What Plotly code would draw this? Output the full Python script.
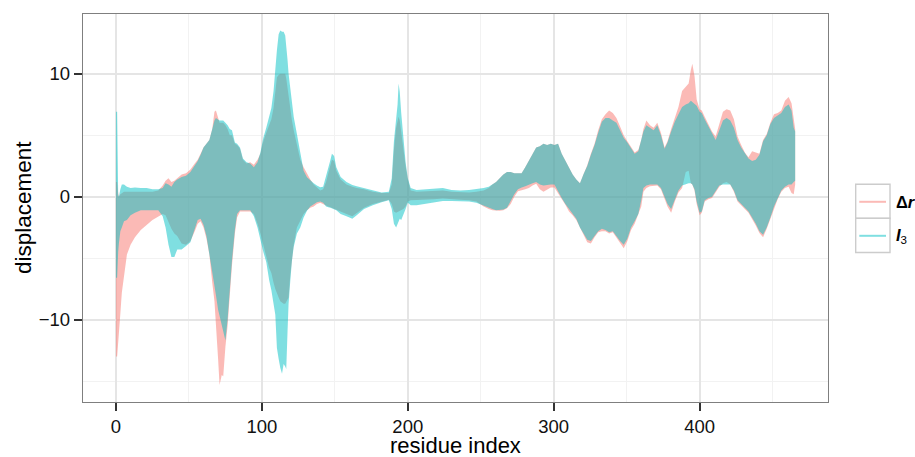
import plotly.graph_objects as go

# Envelope of the dense oscillating displacement traces
residue = [0.0, 0.8, 1.5, 2.0, 3.0, 4.0, 5.5, 7.5, 10, 13, 17, 21, 25, 29, 32, 34, 36, 38, 40, 42,
           45, 48, 51, 54, 56, 58, 60, 62, 64, 66, 67.5, 68.5, 70, 71, 72.5, 73.5, 75, 76.5, 78, 79.5,
           81.5, 83, 85, 87, 89.5, 92, 94.5, 97, 99, 101, 103, 105, 106.5, 108, 109.2, 110.3, 111.5,
           112.6, 113.8, 114.9, 116.0, 116.7, 117.6, 118.3, 119.5, 120.6, 121.8, 124.0, 126.3, 128.6,
           130.9, 133.2, 135.5, 137.7, 140, 142, 144, 145.5, 147, 148, 149.5, 151, 154, 158, 162, 165,
           170, 176, 182, 187, 189, 190.5, 192, 193, 193.7, 194.5, 195.5, 197, 198.5, 200, 202, 206,
           212, 218, 224, 230, 236, 242, 247, 252, 255.5, 258, 260.5, 263, 265.5, 268, 270.5, 273,
           275.5, 278, 280.5, 283, 285.5, 288, 290.5, 293, 295.5, 298, 300.5, 303, 305.5, 308, 310.5,
           313, 315.5, 318, 320.5, 323, 325.5, 328, 330.5, 333, 335.5, 338, 340.5, 343, 345.5, 348,
           350.5, 353, 355.5, 358, 360, 361.5, 363.5, 366, 368.5, 371, 373.5, 376, 378, 380.5, 383,
           385.5, 388, 390.5, 392.5, 394, 395, 396.5, 398, 400, 401.5, 403.5, 406, 408.5, 411, 413.5,
           416, 418.5, 421, 423.5, 426, 428.5, 431, 433.5, 436, 438.5, 441, 443.5, 446, 448.5, 451,
           453.5, 456, 458.5, 461, 463, 464.5, 465.5]

i3_upper = [6.9, 6.9, 0.2, 0.0, 0.6, 1.0, 1.0, 0.8, 0.7, 0.75, 0.7, 0.7, 0.6, 0.6, 0.7, 1.1, 1.0, 0.8, 1.2, 1.4,
            1.6, 1.7, 2.0, 2.5, 2.9, 3.4, 4.0, 4.3, 4.6, 5.5, 6.2, 6.4, 6.3, 6.2, 6.2, 6.2, 6.0, 5.8, 5.5, 5.4,
            4.4, 4.3, 4.0, 3.1, 2.8, 2.7, 2.4, 2.8, 3.6, 4.8, 5.6, 6.5, 7.2, 8.6, 10.8, 11.9, 13.2,
            13.5, 13.4, 13.4, 13.1, 12.4, 11.1, 10.0, 8.6, 7.5, 6.5, 5.1, 3.75, 2.1,
            1.57, 1.3, 1.1, 0.9, 0.76, 0.8, 1.6, 2.3, 3.0, 3.5, 3.3, 2.4, 1.6, 1.2, 0.95, 0.85,
            0.7, 0.5, 0.35, 0.4, 1.5, 4.5, 6.0, 7.5, 9.2, 8.5, 6.8, 4.5, 2.8, 1.5, 0.7, 0.55,
            0.6, 0.7, 0.7, 0.55, 0.5, 0.55, 0.6, 0.7, 0.8, 1.0, 1.2, 1.5, 1.8, 2.0, 2.0, 1.9,
            1.9, 1.9, 2.4, 2.9, 3.5, 4.0, 4.1, 4.3, 4.2, 4.3, 4.2, 4.3, 3.5, 2.9, 2.4,
            1.8, 1.4, 1.1, 1.85, 2.5, 3.4, 4.2, 5.2, 6.1, 6.4, 6.4, 6.2, 6.0, 5.4, 4.8,
            4.4, 3.9, 3.5, 3.7, 4.5, 5.3, 5.8, 5.6, 5.4, 5.8, 5.0, 3.9, 4.4, 5.3, 6.1,
            6.7, 7.3, 7.5, 7.6, 7.8, 7.7, 7.5, 7.4, 6.9, 6.8, 6.3, 5.7, 5.1, 4.6, 5.4,
            6.2, 6.4, 6.2, 5.6, 4.6, 4.0, 3.5, 3.1, 2.9, 3.0, 3.4, 4.5, 5.0, 5.9, 6.4,
            6.6, 6.8, 7.3, 7.5, 7.0, 5.6, 5.3]

i3_lower = [-6.6, -6.6, -4.5, -3.8, -2.8, -2.5, -2.0, -1.9, -1.5, -1.3, -1.1, -1.1, -1.1, -1.1, -1.6, -2.5, -3.9, -4.9, -4.9, -4.3,
            -4.3, -4.0, -3.7, -2.6, -1.9, -1.8, -2.3, -3.2, -4.5, -6.0, -7.2, -8.0, -9.2, -9.8, -10.3, -11.0, -11.7, -10.0, -7.8, -5.2,
            -2.7, -1.4, -1.1, -1.1, -1.1, -1.1, -1.6, -2.5, -3.4, -4.5, -5.3, -6.8, -7.6, -8.6, -9.6, -12.3, -13.2,
            -13.9, -14.4, -13.6, -13.8, -14.0, -10.9, -8.7, -6.8, -5.2, -4.1, -3.0, -2.5, -1.7,
            -1.14, -0.8, -0.6, -0.45, -0.4, -0.5, -0.8, -0.85, -0.9, -0.95, -1.0, -1.1, -1.4, -1.6, -1.8, -1.5,
            -1.0, -0.7, -0.45, -0.3, -1.0, -2.2, -2.5, -2.3, -2.0, -1.8, -1.9, -1.5, -1.0, -0.5, -0.7, -0.7,
            -0.6, -0.45, -0.35, -0.35, -0.35, -0.4, -0.5, -0.7, -0.9, -1.0, -1.1, -1.1, -1.05, -0.9, -0.4, 0.2,
            0.6, 0.75, 0.85, 0.95, 1.1, 1.2, 1.0, 0.9, 0.95, 1.0, 1.0, 0.5, -0.1, -0.6, -1.1,
            -1.4, -1.8, -2.5, -3.0, -3.5, -3.6, -3.2, -2.8, -2.6, -2.7, -2.9, -2.8, -3.2, -3.6, -3.9,
            -3.4, -2.5, -2.0, -1.4, -0.3, 0.7, 0.9, 1.0, 1.0, 1.0, 0.7, 0.0, -0.6, -1.0, -0.2,
            0.5, 0.9, 1.0, 1.1, 1.1, 1.0, 0.6, -0.4, -1.3, -1.2, -0.3, -0.1, 0.0, 0.4, 0.9,
            1.0, 1.0, 1.0, 0.5, -0.3, -0.6, -0.9, -1.2, -1.7, -2.2, -2.8, -3.1, -2.5, -1.7, -0.8,
            -0.1, 0.5, 0.8, 1.0, 1.0, 1.2, 1.3]

dr_upper = [1.2, 1.2, 0.3, 0.0, 0.2, 0.3, 0.4, 0.4, 0.4, 0.4, 0.4, 0.4, 0.4, 0.5, 0.9, 1.3, 1.5, 1.2, 1.3, 1.5,
            1.8, 1.9, 2.2, 2.7, 3.0, 3.5, 4.0, 4.3, 4.6, 5.5, 6.9, 7.0, 6.5, 6.0, 6.0, 6.0, 5.8, 5.5, 5.0, 5.0,
            4.3, 4.2, 3.9, 3.0, 2.7, 2.8, 2.6, 3.0, 3.5, 4.5, 5.2, 5.8, 6.3, 7.2, 8.5, 9.7, 9.9,
            10.0, 10.0, 10.0, 10.0, 9.6, 8.7, 8.1, 7.3, 6.2, 5.4, 4.3, 3.0, 2.4,
            1.85, 1.4, 1.0, 0.76, 0.5, 0.6, 1.2, 1.9, 2.6, 3.0, 2.9, 2.1, 1.4, 1.0, 0.8, 0.7,
            0.6, 0.4, 0.3, 0.3, 1.0, 3.8, 5.6, 6.3, 6.5, 6.2, 5.2, 4.0, 2.5, 1.4, 0.5, 0.4,
            0.45, 0.5, 0.5, 0.4, 0.35, 0.35, 0.4, 0.5, 0.7, 1.0, 1.2, 1.5, 1.8, 2.0, 2.0, 1.9,
            1.9, 1.9, 2.4, 2.9, 3.5, 4.0, 4.1, 4.3, 4.2, 4.3, 4.2, 4.3, 3.5, 2.9, 2.4,
            1.8, 1.4, 1.1, 1.85, 2.55, 3.5, 4.3, 5.4, 6.3, 6.7, 7.0, 6.8, 6.4, 5.7, 5.0,
            4.5, 4.1, 3.6, 3.8, 4.6, 5.5, 6.2, 5.8, 5.6, 6.0, 5.2, 4.0, 4.5, 5.5, 6.4,
            7.3, 8.6, 8.9, 9.2, 10.3, 10.8, 9.8, 7.9, 7.1, 7.0, 6.5, 5.9, 5.3, 4.9, 5.9,
            6.9, 7.1, 7.0, 6.3, 4.9, 4.2, 3.6, 3.2, 3.7, 3.6, 3.5, 4.6, 5.1, 6.0, 6.7,
            6.8, 7.0, 7.8, 8.1, 7.6, 6.4, 5.5]

dr_lower = [-13.0, -13.0, -12.3, -11.5, -9.5, -7.8, -6.3, -4.7, -3.9, -3.3, -2.7, -2.3, -1.9, -1.6, -1.4, -1.5, -2.0, -2.6, -3.0, -3.2,
            -3.8, -3.9, -3.6, -2.8, -2.2, -2.0, -2.5, -3.4, -4.7, -7.0, -8.5, -10.0, -13.2, -15.3, -14.5, -14.6, -12.2, -10.5, -8.5, -5.6,
            -3.0, -1.7, -1.2, -1.2, -1.2, -1.2, -1.4, -2.2, -3.0, -4.0, -4.8, -5.8, -6.2, -7.0, -7.5, -7.9, -8.2,
            -8.5, -8.6, -8.7, -8.7, -8.6, -8.4, -8.2, -6.3, -5.0, -3.9, -2.5, -2.0, -1.4,
            -1.1, -0.9, -0.8, -0.6, -0.5, -0.6, -0.7, -0.8, -0.85, -0.9, -0.95, -1.0, -1.2, -1.4, -1.6, -1.3,
            -0.9, -0.6, -0.4, -0.25, -0.6, -1.2, -1.3, -1.2, -1.2, -1.1, -1.1, -1.0, -0.8, -0.4, -0.3, -0.3,
            -0.25, -0.2, -0.15, -0.2, -0.25, -0.3, -0.4, -0.8, -1.0, -1.1, -1.15, -1.15, -1.1, -0.95, -0.6, 0.0,
            0.45, 0.5, 0.6, 0.7, 0.9, 1.05, 0.6, 0.4, 0.6, 0.75, 0.75, 0.3, -0.2, -0.65, -1.2,
            -1.5, -1.9, -2.6, -3.1, -3.7, -3.8, -3.3, -2.9, -2.8, -2.8, -3.0, -2.9, -3.3, -3.8, -4.2,
            -3.6, -2.7, -2.2, -1.5, -0.8, 0.4, 0.7, 0.85, 0.9, 0.9, 0.6, -0.1, -0.8, -1.3, -0.4,
            0.35, 0.7, 2.0, 2.1, 1.1, 1.0, 0.5, -0.6, -1.5, -1.3, -0.4, -0.2, -0.1, 0.3, 0.8,
            1.1, 1.2, 1.0, 0.4, -0.4, -0.7, -1.0, -1.3, -1.8, -2.35, -2.95, -3.3, -2.6, -1.9, -1.0,
            -0.2, 0.4, 0.7, 0.8, 0.3, 0.2, 1.0]

x_ticks = [0, 100, 200, 300, 400]
x_minor = [50, 150, 250, 350, 450]
y_ticks = [-10, 0, 10]
y_minor = [-15, -5, 5]
series_labels = ["<b>\u0394<i>r</i></b>", "<b><i>I</i></b><sub>3</sub>"]
series_names = ["\u0394r", "I3"]
series_colors = ["rgba(248,118,109,0.5)", "rgba(0,191,196,0.5)"]

FONT = "Liberation Sans, Arial, Helvetica, sans-serif"
FIG_W, FIG_H = 915, 457
L, T, W, H = 83, 14, 745, 388


def px_x(p):
    return (p - L) / W


def px_y(p):
    return (T + H - p) / H


fig = go.Figure()
for name, color, up, lo in [(series_names[0], series_colors[0], dr_upper, dr_lower),
                            (series_names[1], series_colors[1], i3_upper, i3_lower)]:
    fig.add_trace(go.Scatter(
        x=residue + residue[::-1],
        y=up + lo[::-1],
        fill="toself",
        fillcolor=color,
        mode="lines",
        line=dict(width=0, color="rgba(0,0,0,0)"),
        name=name,
        showlegend=False,
        hoverinfo="skip",
    ))

axis_common = dict(
    ticks="outside", ticklen=8, tickwidth=1.5, tickcolor="#333333",
    showline=True, mirror=True, linecolor="#7f7f7f", linewidth=1.3,
    showgrid=True, gridcolor="#E5E5E5", gridwidth=1.5, zeroline=False,
    tickfont=dict(family=FONT, size=18.5, color="#111111"),
)

fig.update_layout(
    width=FIG_W, height=FIG_H,
    margin=dict(l=L, r=FIG_W - L - W, t=T, b=FIG_H - T - H),
    plot_bgcolor="white", paper_bgcolor="white",
    xaxis=dict(range=[-22.6, 488.0], tickvals=x_ticks, ticktext=[str(v) for v in x_ticks],
               minor=dict(tickvals=x_minor, showgrid=True, gridcolor="#F2F2F2", gridwidth=1.2, ticks=""),
               **axis_common),
    yaxis=dict(range=[-16.69, 14.85], tickvals=y_ticks,
               ticktext=["\u221210", "0", "10"],
               minor=dict(tickvals=y_minor, showgrid=True, gridcolor="#F2F2F2", gridwidth=1.2, ticks=""),
               **axis_common),
    showlegend=False,
)

# axis titles
fig.add_annotation(text="residue index", xref="paper", yref="paper", x=px_x(455.2), y=px_y(445),
                   xanchor="center", yanchor="middle", showarrow=False,
                   font=dict(family=FONT, size=22, color="black"))
fig.add_annotation(text="displacement", xref="paper", yref="paper", x=px_x(23), y=px_y(208),
                   xanchor="center", yanchor="middle", showarrow=False, textangle=-90,
                   font=dict(family=FONT, size=22.5, color="black"))

# legend (keys drawn as boxes with short lines)
key_tops = [184.3, 218.3]
for i, (label, color) in enumerate(zip(series_labels, series_colors)):
    top = key_tops[i]
    fig.add_shape(type="rect", xref="paper", yref="paper",
                  x0=px_x(855.7), x1=px_x(890), y0=px_y(top), y1=px_y(top + 34.2),
                  line=dict(color="#CCCCCC", width=1.4), fillcolor="white")
    fig.add_shape(type="line", xref="paper", yref="paper",
                  x0=px_x(859.3), x1=px_x(886), y0=px_y(top + 17.5), y1=px_y(top + 17.5),
                  line=dict(color=color, width=2))
    fig.add_annotation(text=label, xref="paper", yref="paper", x=px_x(893.5), y=px_y(top + 17.5),
                       xanchor="left", yanchor="middle", showarrow=False,
                       font=dict(family=FONT, size=16.5, color="black"))

# remove the default page margin so the figure sits at the top-left of the window
page_fix = ("document.body.style.margin='0';"
            "document.body.style.overflow='hidden';"
            "document.documentElement.style.overflow='hidden';")

fig.write_html("out.html", post_script=page_fix, config={"displayModeBar": False})
